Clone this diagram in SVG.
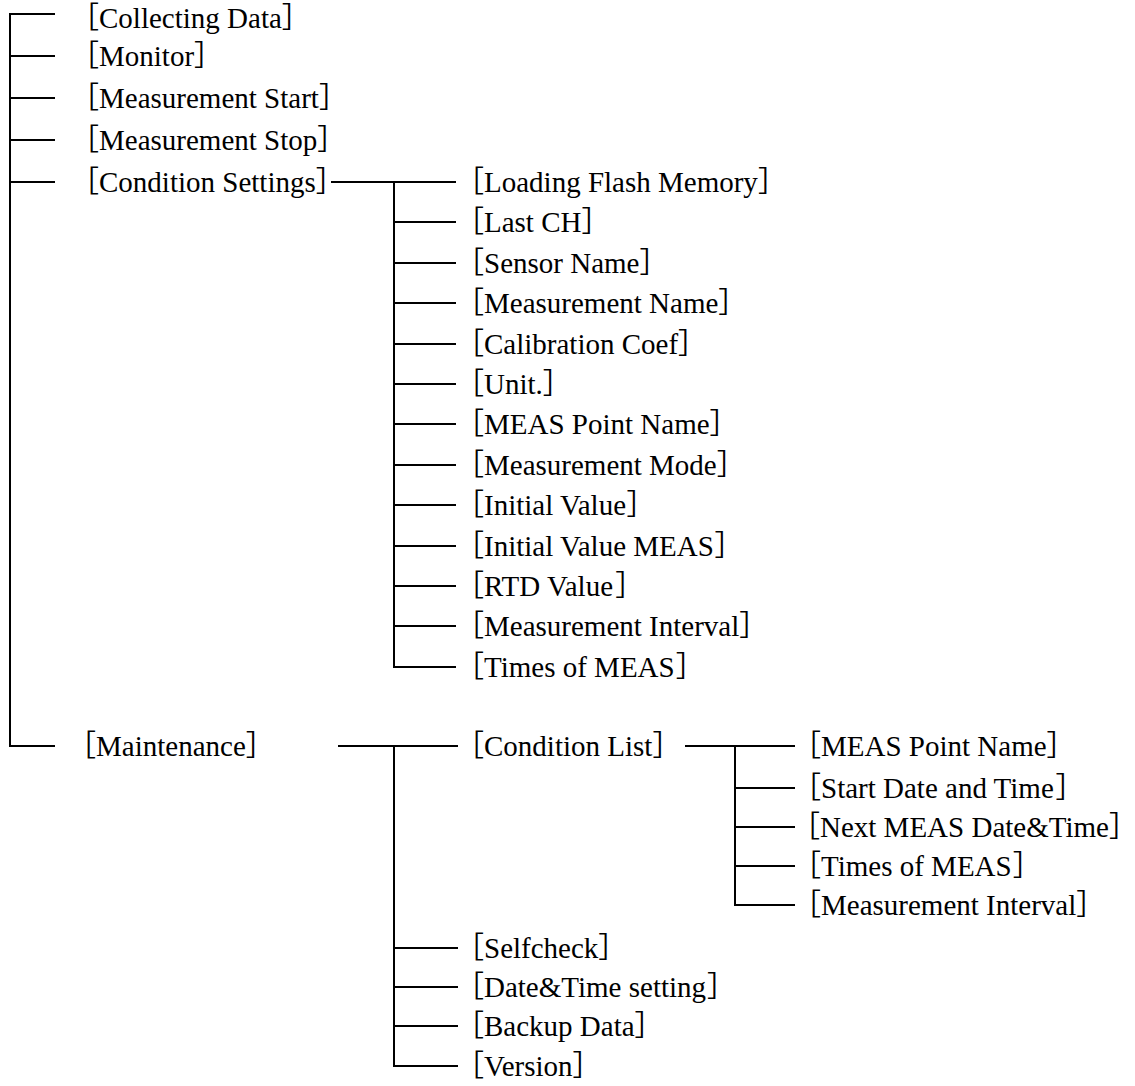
<svg xmlns="http://www.w3.org/2000/svg" width="1135" height="1086" viewBox="0 0 1135 1086">
<defs>
<style>
.c line,.c path{stroke:#000;stroke-width:2;fill:none}
</style>
</defs>
<rect width="1135" height="1086" fill="#fff"/>
<g id="connectors" class="c">
<path d="M55,14H10V746H55"/>
<line x1="10" y1="56" x2="55" y2="56"/>
<line x1="10" y1="98" x2="55" y2="98"/>
<line x1="10" y1="140" x2="55" y2="140"/>
<line x1="10" y1="182" x2="55" y2="182"/>
<line x1="331" y1="182" x2="456" y2="182"/>
<path d="M394,182V667H456"/>
<line x1="394" y1="222" x2="456" y2="222"/>
<line x1="394" y1="263" x2="456" y2="263"/>
<line x1="394" y1="303" x2="456" y2="303"/>
<line x1="394" y1="344" x2="456" y2="344"/>
<line x1="394" y1="384" x2="456" y2="384"/>
<line x1="394" y1="424" x2="456" y2="424"/>
<line x1="394" y1="465" x2="456" y2="465"/>
<line x1="394" y1="505" x2="456" y2="505"/>
<line x1="394" y1="546" x2="456" y2="546"/>
<line x1="394" y1="586" x2="456" y2="586"/>
<line x1="394" y1="626" x2="456" y2="626"/>
<line x1="338" y1="746" x2="458" y2="746"/>
<path d="M394,746V1066H458"/>
<line x1="394" y1="948" x2="458" y2="948"/>
<line x1="394" y1="987" x2="458" y2="987"/>
<line x1="394" y1="1026" x2="458" y2="1026"/>
<line x1="685" y1="746" x2="795" y2="746"/>
<path d="M735,746V905H795"/>
<line x1="735" y1="788" x2="795" y2="788"/>
<line x1="735" y1="827" x2="795" y2="827"/>
<line x1="735" y1="866" x2="795" y2="866"/>
</g>
<g id="nodes" font-size="29" fill="#000">
<g id="n-collecting"><text x="70" y="28" font-family="Noto Sans CJK JP">［</text><text x="99" y="28" font-family="Liberation Serif">Collecting Data</text><text x="281.8" y="28" font-family="Noto Sans CJK JP">］</text></g>
<g id="n-monitor"><text x="70" y="66" font-family="Noto Sans CJK JP">［</text><text x="99" y="66" font-family="Liberation Serif">Monitor</text><text x="194.1" y="66" font-family="Noto Sans CJK JP">］</text></g>
<g id="n-mstart"><text x="70" y="108" font-family="Noto Sans CJK JP">［</text><text x="99" y="108" font-family="Liberation Serif">Measurement Start</text><text x="318.9" y="108" font-family="Noto Sans CJK JP">］</text></g>
<g id="n-mstop"><text x="70" y="150" font-family="Noto Sans CJK JP">［</text><text x="99" y="150" font-family="Liberation Serif">Measurement Stop</text><text x="317.3" y="150" font-family="Noto Sans CJK JP">］</text></g>
<g id="n-condset"><text x="70" y="192" font-family="Noto Sans CJK JP">［</text><text x="99" y="192" font-family="Liberation Serif">Condition Settings</text><text x="315.7" y="192" font-family="Noto Sans CJK JP">］</text></g>
<g id="n-maint"><text x="67" y="756" font-family="Noto Sans CJK JP">［</text><text x="96" y="756" font-family="Liberation Serif">Maintenance</text><text x="245.8" y="756" font-family="Noto Sans CJK JP">］</text></g>
<g id="n-loading"><text x="455" y="192" font-family="Noto Sans CJK JP">［</text><text x="484" y="192" font-family="Liberation Serif">Loading Flash Memory</text><text x="757.9" y="192" font-family="Noto Sans CJK JP">］</text></g>
<g id="n-lastch"><text x="455" y="232" font-family="Noto Sans CJK JP">［</text><text x="484" y="232" font-family="Liberation Serif">Last CH</text><text x="581.5" y="232" font-family="Noto Sans CJK JP">］</text></g>
<g id="n-sensor"><text x="455" y="273" font-family="Noto Sans CJK JP">［</text><text x="484" y="273" font-family="Liberation Serif">Sensor Name</text><text x="639.4" y="273" font-family="Noto Sans CJK JP">］</text></g>
<g id="n-measname"><text x="455" y="313" font-family="Noto Sans CJK JP">［</text><text x="484" y="313" font-family="Liberation Serif">Measurement Name</text><text x="718.3" y="313" font-family="Noto Sans CJK JP">］</text></g>
<g id="n-calib"><text x="455" y="354" font-family="Noto Sans CJK JP">［</text><text x="484" y="354" font-family="Liberation Serif">Calibration Coef</text><text x="678.1" y="354" font-family="Noto Sans CJK JP">］</text></g>
<g id="n-unit"><text x="455" y="394" font-family="Noto Sans CJK JP">［</text><text x="484" y="394" font-family="Liberation Serif">Unit.</text><text x="542.8" y="394" font-family="Noto Sans CJK JP">］</text></g>
<g id="n-mpname"><text x="455" y="434" font-family="Noto Sans CJK JP">［</text><text x="484" y="434" font-family="Liberation Serif">MEAS Point Name</text><text x="709.6" y="434" font-family="Noto Sans CJK JP">］</text></g>
<g id="n-mmode"><text x="455" y="475" font-family="Noto Sans CJK JP">［</text><text x="484" y="475" font-family="Liberation Serif">Measurement Mode</text><text x="716.8" y="475" font-family="Noto Sans CJK JP">］</text></g>
<g id="n-initval"><text x="455" y="515" font-family="Noto Sans CJK JP">［</text><text x="484" y="515" font-family="Liberation Serif">Initial Value</text><text x="626.6" y="515" font-family="Noto Sans CJK JP">］</text></g>
<g id="n-initmeas"><text x="455" y="556" font-family="Noto Sans CJK JP">［</text><text x="484" y="556" font-family="Liberation Serif">Initial Value MEAS</text><text x="714.4" y="556" font-family="Noto Sans CJK JP">］</text></g>
<g id="n-rtd"><text x="455" y="596" font-family="Noto Sans CJK JP">［</text><text x="484" y="596" font-family="Liberation Serif">RTD Value</text><text x="615.3" y="596" font-family="Noto Sans CJK JP">］</text></g>
<g id="n-minterval"><text x="455" y="636" font-family="Noto Sans CJK JP">［</text><text x="484" y="636" font-family="Liberation Serif">Measurement Interval</text><text x="739.3" y="636" font-family="Noto Sans CJK JP">］</text></g>
<g id="n-times"><text x="455" y="677" font-family="Noto Sans CJK JP">［</text><text x="484" y="677" font-family="Liberation Serif">Times of MEAS</text><text x="675.7" y="677" font-family="Noto Sans CJK JP">］</text></g>
<g id="n-condlist"><text x="455" y="756" font-family="Noto Sans CJK JP">［</text><text x="484" y="756" font-family="Liberation Serif">Condition List</text><text x="652.4" y="756" font-family="Noto Sans CJK JP">］</text></g>
<g id="n-selfcheck"><text x="455" y="958" font-family="Noto Sans CJK JP">［</text><text x="484" y="958" font-family="Liberation Serif">Selfcheck</text><text x="598.3" y="958" font-family="Noto Sans CJK JP">］</text></g>
<g id="n-datetime"><text x="455" y="997" font-family="Noto Sans CJK JP">［</text><text x="484" y="997" font-family="Liberation Serif">Date&amp;Time setting</text><text x="707.1" y="997" font-family="Noto Sans CJK JP">］</text></g>
<g id="n-backup"><text x="455" y="1036" font-family="Noto Sans CJK JP">［</text><text x="484" y="1036" font-family="Liberation Serif">Backup Data</text><text x="634.6" y="1036" font-family="Noto Sans CJK JP">］</text></g>
<g id="n-version"><text x="455" y="1076" font-family="Noto Sans CJK JP">［</text><text x="484" y="1076" font-family="Liberation Serif">Version</text><text x="572.6" y="1076" font-family="Noto Sans CJK JP">］</text></g>
<g id="n-cl-mpname"><text x="792" y="756" font-family="Noto Sans CJK JP">［</text><text x="821" y="756" font-family="Liberation Serif">MEAS Point Name</text><text x="1046.6" y="756" font-family="Noto Sans CJK JP">］</text></g>
<g id="n-cl-start"><text x="792" y="798" font-family="Noto Sans CJK JP">［</text><text x="821" y="798" font-family="Liberation Serif">Start Date and Time</text><text x="1055.4" y="798" font-family="Noto Sans CJK JP">］</text></g>
<g id="n-cl-next"><text x="791" y="837" font-family="Noto Sans CJK JP">［</text><text x="820" y="837" font-family="Liberation Serif">Next MEAS Date&amp;Time</text><text x="1109" y="837" font-family="Noto Sans CJK JP">］</text></g>
<g id="n-cl-times"><text x="792" y="876" font-family="Noto Sans CJK JP">［</text><text x="821" y="876" font-family="Liberation Serif">Times of MEAS</text><text x="1012.7" y="876" font-family="Noto Sans CJK JP">］</text></g>
<g id="n-cl-interval"><text x="792" y="915" font-family="Noto Sans CJK JP">［</text><text x="821" y="915" font-family="Liberation Serif">Measurement Interval</text><text x="1076.3" y="915" font-family="Noto Sans CJK JP">］</text></g>
</g>
</svg>
